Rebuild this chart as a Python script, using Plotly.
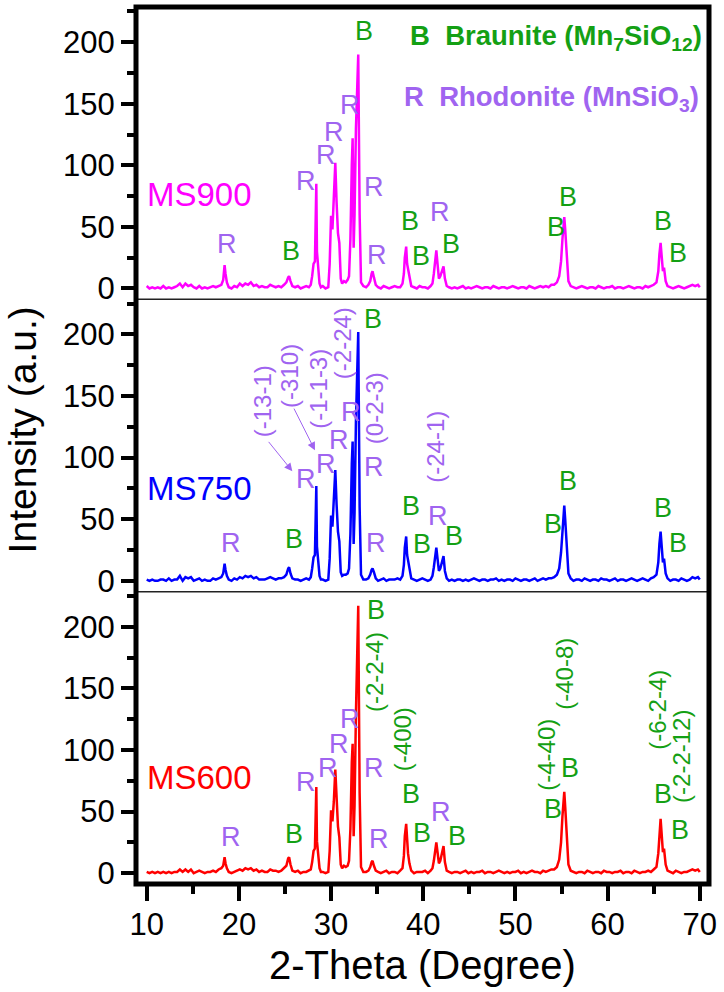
import plotly.graph_objects as go

FONT = "Liberation Sans, Arial, Helvetica, sans-serif"

# ---------------- data ----------------
two_theta = [
    10.0, 10.3, 10.6, 10.9, 11.2, 11.5, 11.8, 12.1, 12.4, 12.7, 13.0, 13.3, 13.6, 13.9, 14.2, 14.5, 14.8, 15.1, 15.4, 15.7, 16.0, 16.3, 16.6, 16.9, 17.2, 17.5, 17.8, 18.1,
    18.3, 18.45, 18.55, 18.7, 18.9,
    19.2, 19.5, 19.8, 20.1, 20.4, 20.7, 21.0, 21.3, 21.6, 21.9, 22.2, 22.5, 22.8, 23.1, 23.4, 23.7, 24.0, 24.3, 24.6, 24.9,
    25.15, 25.35, 25.45, 25.6, 25.8,
    26.1, 26.4, 26.7, 27.0, 27.3, 27.6,
    27.8, 27.95, 28.1, 28.25, 28.33, 28.4, 28.47, 28.6, 28.75, 28.9,
    29.1, 29.4, 29.7,
    29.85, 29.95, 30.0, 30.15, 30.3, 30.46, 30.6, 30.75, 30.9, 31.05,
    31.2, 31.4, 31.6, 31.8,
    31.95, 32.1, 32.25, 32.34, 32.45, 32.55, 32.7, 32.85, 32.95, 33.1, 33.25,
    33.5, 33.8, 34.05,
    34.25, 34.4, 34.5, 34.65, 34.85,
    35.1, 35.4, 35.7, 36.0, 36.3, 36.6, 36.9, 37.2, 37.5,
    37.75, 37.9, 38.0, 38.15, 38.25, 38.35, 38.5, 38.7,
    39.0, 39.3, 39.6, 39.9, 40.2, 40.5, 40.8,
    41.0, 41.15, 41.3, 41.42, 41.55, 41.7, 41.85, 42.0, 42.2, 42.35, 42.55,
    42.8, 43.1, 43.4, 43.7, 44.0, 44.3, 44.6, 44.9, 45.2, 45.5, 45.8, 46.1, 46.4, 46.7, 47.0, 47.3, 47.6, 47.9, 48.2, 48.5, 48.8, 49.1, 49.4, 49.7, 50.0, 50.3, 50.6, 50.9, 51.2, 51.5, 51.8, 52.1, 52.4, 52.7, 53.0, 53.3, 53.6, 53.9, 54.2,
    54.5, 54.75, 54.95, 55.1, 55.2, 55.3, 55.4, 55.55, 55.75, 56.0,
    56.3, 56.6, 56.9, 57.2, 57.5, 57.8, 58.1, 58.4, 58.7, 59.0, 59.3, 59.6, 59.9, 60.2, 60.5, 60.8, 61.1, 61.4, 61.7, 62.0, 62.3, 62.6, 62.9, 63.2, 63.5, 63.8, 64.1, 64.4, 64.7, 65.0,
    65.3, 65.5, 65.62, 65.75, 65.88, 66.0, 66.12, 66.3, 66.5,
    66.8, 67.1, 67.4, 67.7, 68.0, 68.3, 68.6, 68.9, 69.2, 69.5, 69.8, 70.0,
]

ms900 = [
    2, 0, 1, 0, 1, 0, 2, 0, 1, 0, 1, 2, 4, 1, 4, 2, 3, 1, 0, 2, 0, 1, 0, 1, 2, 1, 2, 3,
    7, 19, 12, 5, 1,
    0, 2, 1, 4, 2, 4, 3, 5, 2, 3, 1, 2, 1, 1, 3, 2, 1, 2, 1, 3,
    5, 9, 10, 6, 2,
    1, 2, 0, 1, 2, 1,
    3, 10, 20, 22, 55, 85, 30, 20, 4, 1,
    2, 0, 1,
    20, 55, 59, 48, 70, 102, 70, 45, 37, 8,
    4, 6, 5, 7,
    10, 40, 100, 122, 33, 60, 130, 180, 190, 60, 5,
    2, 1, 3,
    6, 12, 14, 9, 3,
    1, 0, 2, 1, 0, 1, 2, 1, 1,
    4, 12, 25, 34, 20, 16, 8, 2,
    1, 0, 2, 1, 1, 0, 2,
    4, 12, 25, 31, 20, 8, 10, 14, 18, 8, 2,
    1, 0, 1, 0, 1, 2, 0, 1, 0, 1, 2, 1, 0, 1, 1, 0, 2, 1, 0, 1, 1, 0, 1, 2, 1, 0, 1, 1, 0, 2, 1, 0, 1, 2, 1, 2, 1, 3, 3,
    5, 10, 22, 40, 52, 58, 48, 25, 6, 2,
    1, 0, 1, 2, 1, 0, 1, 1, 0, 2, 1, 0, 1, 1, 2, 0, 1, 1, 0, 1, 2, 1, 0, 1, 1, 0, 2, 1, 2, 3,
    5, 14, 28, 37, 25, 14, 17, 6, 2,
    1, 0, 1, 2, 1, 0, 1, 2, 3, 2, 3, 1,
]

ms750 = [
    1, 0, 1, 0, 0, 1, 1, 0, 2, 0, 1, 1, 4, 0, 3, 2, 3, 0, 1, 2, 0, 1, 0, 0, 2, 1, 2, 3,
    6, 14, 9, 4, 1,
    0, 2, 1, 3, 2, 4, 3, 4, 2, 3, 1, 1, 1, 2, 3, 2, 1, 2, 2, 3,
    5, 10, 11, 6, 2,
    1, 1, 0, 1, 2, 1,
    3, 10, 19, 21, 50, 77, 28, 19, 4, 1,
    1, 0, 1,
    18, 50, 53, 44, 62, 90, 62, 40, 32, 7,
    4, 5, 5, 6,
    10, 38, 95, 113, 30, 55, 130, 190, 202, 60, 5,
    1, 1, 2,
    5, 9, 10, 7, 2,
    0, 1, 2, 0, 1, 1, 1, 2, 1,
    4, 13, 27, 36, 21, 16, 8, 2,
    1, 0, 1, 2, 1, 0, 1,
    4, 11, 22, 27, 18, 8, 10, 15, 20, 8, 2,
    0, 1, 0, 1, 1, 0, 1, 0, 1, 2, 1, 0, 1, 1, 0, 1, 1, 2, 0, 1, 0, 1, 1, 0, 2, 1, 0, 1, 1, 0, 1, 2, 0, 1, 2, 1, 2, 2, 3,
    5, 10, 23, 42, 55, 61, 50, 26, 6, 2,
    0, 1, 1, 0, 2, 1, 0, 1, 1, 0, 2, 1, 1, 0, 1, 2, 0, 1, 1, 0, 1, 2, 1, 0, 1, 2, 1, 0, 2, 3,
    5, 15, 30, 40, 27, 15, 18, 6, 2,
    0, 1, 1, 0, 2, 1, 0, 1, 3, 2, 3, 1,
]

ms600 = [
    1, 0, 1, 0, 1, 0, 1, 0, 1, 0, 1, 1, 3, 1, 3, 1, 3, 0, 1, 2, 1, 0, 1, 1, 2, 1, 3, 4,
    6, 13, 8, 4, 1,
    0, 1, 2, 3, 2, 4, 3, 4, 2, 3, 1, 2, 1, 1, 3, 2, 2, 1, 2, 4,
    6, 12, 13, 7, 2,
    1, 2, 0, 1, 1, 2,
    3, 9, 18, 20, 45, 70, 26, 18, 4, 1,
    1, 0, 1,
    18, 48, 51, 42, 58, 84, 58, 38, 29, 7,
    4, 6, 5, 6,
    10, 36, 90, 105, 30, 55, 130, 200, 217, 65, 5,
    1, 1, 2,
    5, 9, 10, 6, 2,
    1, 0, 1, 2, 0, 1, 1, 0, 2,
    4, 14, 30, 40, 22, 16, 8, 2,
    0, 1, 1, 1, 2, 0, 2,
    4, 10, 20, 25, 17, 8, 10, 16, 22, 9, 2,
    1, 0, 1, 1, 0, 1, 2, 0, 1, 0, 1, 1, 2, 0, 1, 1, 0, 1, 2, 1, 0, 1, 0, 1, 1, 2, 0, 1, 0, 1, 2, 1, 1, 0, 2, 1, 2, 3, 3,
    5, 11, 25, 46, 60, 66, 54, 28, 7, 2,
    1, 0, 1, 1, 0, 2, 1, 0, 1, 1, 0, 2, 1, 1, 0, 1, 1, 2, 0, 1, 1, 0, 2, 1, 0, 1, 1, 2, 1, 3,
    5, 16, 33, 44, 30, 17, 20, 7, 2,
    1, 0, 2, 1, 0, 1, 1, 2, 3, 2, 3, 1,
]

assert len(two_theta) == len(ms900) == len(ms750) == len(ms600), (len(two_theta), len(ms900), len(ms750), len(ms600))

sample_names = ["MS900", "MS750", "MS600"]
y_ticks = [0, 50, 100, 150, 200]
x_ticks = [10, 20, 30, 40, 50, 60, 70]

# peak letter labels (2-theta, intensity)
top_R = [(18.73, 36), (27.3, 87), (29.46, 108), (30.36, 127), (32.05, 149), (34.68, 82), (34.93, 27), (41.85, 62)]
top_B = [(25.68, 30.6), (33.6, 209), (38.58, 55), (39.8, 26.5), (43.03, 36), (55.68, 74), (54.37, 50), (66.06, 55), (67.68, 29)]
mid_R = [(19.16, 31), (27.3, 82.7), (29.46, 95), (30.9, 114), (32.16, 137), (34.68, 92), (34.86, 31), (41.63, 53)]
mid_B = [(26.03, 34), (34.5, 212.6), (38.65, 61), (39.9, 30), (43.33, 36.6), (55.68, 81), (54.07, 46), (66.06, 59), (67.68, 31)]
bot_R = [(19.16, 29.7), (27.3, 74), (29.64, 85), (30.9, 105), (32.09, 125.5), (34.68, 85), (35.22, 28), (41.9, 49.6)]
bot_B = [(26.03, 32), (34.86, 213.6), (38.65, 64), (39.9, 33), (43.7, 30), (55.9, 85), (54.07, 52), (66.06, 64), (67.8, 35)]

mid_hkl = [("(-13-1)", 22.65, 146), ("(-310)", 25.5, 166), ("(-1-1-3)", 28.6, 156),
           ("(-2-24)", 31.2, 193), ("(0-2-3)", 34.75, 140), ("(-24-1)", 41.3, 109)]
bot_hkl = [("(-2-2-4)", 34.74, 163), ("(-400)", 37.84, 109), ("(-4-40)", 53.41, 96),
           ("(-40-8)", 55.29, 162), ("(-6-2-4)", 65.41, 133), ("(-2-2-12)", 67.94, 95)]
mid_arrows = [((23.1, 114), (25.8, 89)), ((25.9, 141), (28.25, 106))]

# ---------------- styles ----------------
C_MS900 = "#FF00FF"
C_MS750 = "#0000FF"
C_MS600 = "#FF0000"
GREEN = "#14A014"
PURPLE = "#A064F0"

W, H = 724, 992
L, R_, T, B_ = 136, 13, 7, 108
PW, PH = W - L - R_, H - T - B_
YR = [-8.8, 228.5]
XR = [8.84, 71.0]

fig = go.Figure()
fig.add_trace(go.Scatter(x=two_theta, y=ms600, mode="lines", line=dict(color=C_MS600, width=2.5),
                         xaxis="x", yaxis="y", showlegend=False, hoverinfo="skip"))
fig.add_trace(go.Scatter(x=two_theta, y=ms750, mode="lines", line=dict(color=C_MS750, width=2.5),
                         xaxis="x", yaxis="y2", showlegend=False, hoverinfo="skip"))
fig.add_trace(go.Scatter(x=two_theta, y=ms900, mode="lines", line=dict(color=C_MS900, width=2.5),
                         xaxis="x", yaxis="y3", showlegend=False, hoverinfo="skip"))


def yaxis(domain):
    return dict(domain=domain, range=YR, anchor="x", tickvals=y_ticks,
                ticks="outside", ticklen=14, tickwidth=4, tickcolor="black",
                minor=dict(dtick=25, tick0=0, ticks="outside", ticklen=8, tickwidth=4, tickcolor="black"),
                showline=False, showgrid=False, zeroline=False,
                tickfont=dict(family=FONT, size=31, color="black"))


fig.update_layout(
    width=W, height=H,
    margin=dict(l=L, r=R_, t=T, b=B_, pad=0),
    paper_bgcolor="white", plot_bgcolor="white",
    showlegend=False,
    xaxis=dict(domain=[0, 1], range=XR, anchor="y", tickvals=x_ticks,
               ticks="outside", ticklen=16, tickwidth=4, tickcolor="black",
               minor=dict(dtick=5, tick0=10, ticks="outside", ticklen=9, tickwidth=4, tickcolor="black"),
               showline=False, showgrid=False, zeroline=False, ticklabelstandoff=-3,
               tickfont=dict(family=FONT, size=31, color="black")),
    yaxis=yaxis([0, 1 / 3]),
    yaxis2=yaxis([1 / 3, 2 / 3]),
    yaxis3=yaxis([2 / 3, 1]),
)

shapes = [
    dict(type="line", xref="paper", yref="paper", x0=0, x1=1, y0=1 / 3, y1=1 / 3,
         line=dict(color="#222222", width=1.5)),
    dict(type="line", xref="paper", yref="paper", x0=0, x1=1, y0=2 / 3, y1=2 / 3,
         line=dict(color="#222222", width=1.5)),
    dict(type="rect", xref="paper", yref="paper", x0=0, x1=1, y0=0, y1=1,
         line=dict(color="black", width=5)),
]
fig.update_layout(shapes=shapes)

ann = []


def letter(txt, x, y, yref, color, size=27):
    ann.append(dict(text=txt, x=x, y=y, xref="x", yref=yref, showarrow=False,
                    xanchor="center", yanchor="middle",
                    font=dict(family=FONT, size=size, color=color)))


for yref, Rs, Bs in (("y3", top_R, top_B), ("y2", mid_R, mid_B), ("y", bot_R, bot_B)):
    for (x, y) in Rs:
        letter("R", x, y, yref, PURPLE)
    for (x, y) in Bs:
        letter("B", x, y, yref, GREEN)

for (t, x, y) in mid_hkl:
    ann.append(dict(text=t, x=x, y=y, xref="x", yref="y2", showarrow=False, textangle=-90,
                    xanchor="center", yanchor="middle",
                    font=dict(family=FONT, size=24, color=PURPLE)))
for (t, x, y) in bot_hkl:
    ann.append(dict(text=t, x=x, y=y, xref="x", yref="y", showarrow=False, textangle=-90,
                    xanchor="center", yanchor="middle",
                    font=dict(family=FONT, size=24, color=GREEN)))

for (tail, head) in mid_arrows:
    ann.append(dict(text="", x=head[0], y=head[1], ax=tail[0], ay=tail[1],
                    xref="x", yref="y2", axref="x", ayref="y2", showarrow=True,
                    arrowhead=2, arrowsize=1.6, arrowwidth=1, arrowcolor=PURPLE))

# sample names
for name, yref, yv, col in ((sample_names[0], "y3", 76.5, C_MS900),
                            (sample_names[1], "y2", 74.6, C_MS750),
                            (sample_names[2], "y", 78, C_MS600)):
    ann.append(dict(text=name, x=9.78, y=yv, xref="x", yref=yref, showarrow=False,
                    xanchor="left", yanchor="middle",
                    font=dict(family=FONT, size=33, color=col)))

# phase key
ann.append(dict(text="<b>B\u00a0\u00a0Braunite (Mn<sub>7</sub>SiO<sub>12</sub>)</b>", x=38.36, y=204,
                xref="x", yref="y3", showarrow=False, xanchor="left", yanchor="middle",
                font=dict(family=FONT, size=27.5, color=GREEN)))
ann.append(dict(text="<b>R\u00a0\u00a0Rhodonite (MnSiO<sub>3</sub>)</b>", x=37.7, y=154,
                xref="x", yref="y3", showarrow=False, xanchor="left", yanchor="middle",
                font=dict(family=FONT, size=27.5, color=PURPLE)))

# axis titles
ann.append(dict(text="Intensity (a.u.)", x=(22 - L) / PW, y=(H - B_ - 430) / PH,
                xref="paper", yref="paper", showarrow=False, textangle=-90,
                xanchor="center", yanchor="middle",
                font=dict(family=FONT, size=39, color="black")))
ann.append(dict(text="2-Theta (Degree)", x=0.5, y=(H - B_ - 965) / PH,
                xref="paper", yref="paper", showarrow=False,
                xanchor="center", yanchor="middle",
                font=dict(family=FONT, size=40, color="black")))

fig.update_layout(annotations=ann)

fig.write_html("out.html")
